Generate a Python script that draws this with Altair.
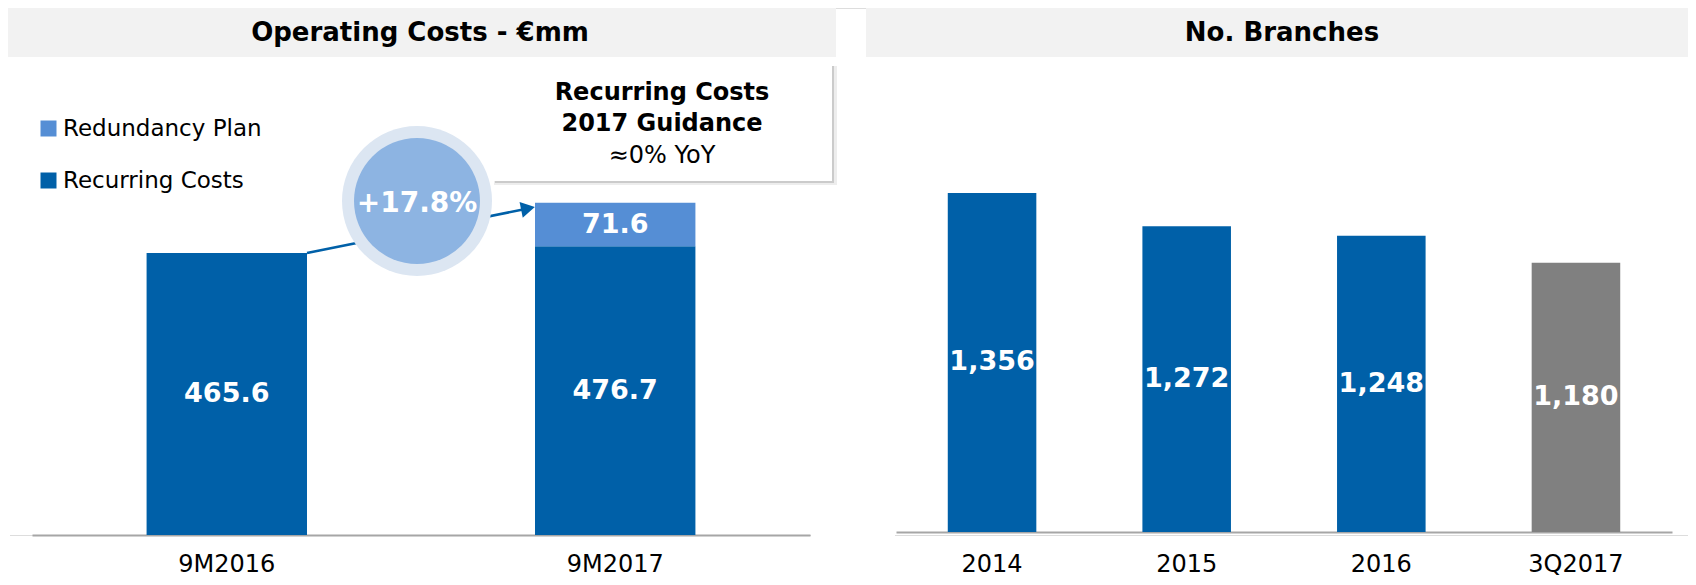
import altair as alt
import pandas as pd

# ---------------- data ----------------
periods = ["9M2016", "9M2017"]
recurring = [465.6, 476.7]
redundancy = [0.0, 71.6]
series_names = ["Redundancy Plan", "Recurring Costs"]
growth_label = ["+17.8%"]
ops_title = ["Operating Costs - €mm"]
box_lines = ["Recurring Costs", "2017 Guidance", "≈0% YoY"]

years = ["2014", "2015", "2016", "3Q2017"]
branches = [1356, 1272, 1248, 1180]
branch_title = ["No. Branches"]
branch_axis_min = 500

DARK = "#0060A8"
LIGHT = "#558ED5"
GRAY = "#808080"
BAND = "#F2F2F2"
AXIS = "#A6A6A6"
FONT = "DejaVu Sans"

# ---------------- tables ----------------
rows = []
for p, r, d in zip(periods, recurring, redundancy):
    rows.append({"period": p, "series": "Recurring Costs", "start": 0.0, "end": r,
                 "mid": r / 2, "label": f"{r:.1f}"})
    if d > 0:
        rows.append({"period": p, "series": "Redundancy Plan", "start": r, "end": r + d,
                     "mid": r + d / 2, "label": f"{d:.1f}"})
ops = pd.DataFrame(rows)

br = pd.DataFrame({"year": years, "branches": branches})
br["mid"] = (br["branches"] + branch_axis_min) / 2
br["label"] = [f"{v:,}" for v in branches]

one = lambda v: pd.DataFrame({"t": v})

W = 1680

# ---------------- left panel ----------------
ops_x_scale = alt.Scale(domain=periods, range=[24, 802], paddingInner=0.587, paddingOuter=0.295)
ops_y_scale = alt.Scale(domain=[0, 870], range=[527, 0], nice=False, zero=True)

left_band = alt.Chart(one(ops_title)).mark_rect(color=BAND).encode(
    x=alt.value(0), x2=alt.value(828), y=alt.value(0), y2=alt.value(49))
left_title = alt.Chart(one(ops_title)).mark_text(
    font=FONT, fontSize=26, fontWeight="bold", color="#000", baseline="middle").encode(
    x=alt.value(412), y=alt.value(25), text="t:N")
edge_cover = alt.Chart(one(ops_title)).mark_rule(color="white", strokeWidth=3).encode(
    x=alt.value(0.5), y=alt.value(49), y2=alt.value(528))
gap_cover = alt.Chart(one(ops_title)).mark_rule(color="white", strokeWidth=3).encode(
    x=alt.value(803), x2=alt.value(887), y=alt.value(527))

ops_bars = alt.Chart(ops).mark_bar().encode(
    x=alt.X("period:N", sort=periods, scale=ops_x_scale,
            axis=alt.Axis(orient="bottom", title=None, labelAngle=0, labelFontSize=24,
                          labelFont=FONT, labelColor="#000", labelPadding=29,
                          labelBaseline="middle", ticks=False, tickSize=0,
                          domainColor=AXIS, domainWidth=2, grid=False)),
    y=alt.Y("start:Q", scale=ops_y_scale, axis=None),
    y2="end:Q",
    color=alt.Color("series:N",
                    scale=alt.Scale(domain=series_names, range=[LIGHT, DARK]),
                    legend=alt.Legend(orient="none", legendX=29, legendY=109, title=None,
                                      symbolType="square", symbolSize=256,
                                      symbolStrokeWidth=0, symbolOpacity=1,
                                      labelFontSize=23, labelFont=FONT, labelColor="#000",
                                      labelLimit=0, labelOffset=3, rowPadding=28, padding=0)),
)
ops_text = alt.Chart(ops).mark_text(
    font=FONT, fontSize=27, fontWeight="bold", color="white", baseline="middle").encode(
    x=alt.X("period:N", sort=periods),
    y=alt.Y("mid:Q", axis=None),
    text="label:N")

arrow_line = alt.Chart(one(growth_label)).mark_rule(color=DARK, strokeWidth=2.5).encode(
    x=alt.value(299), y=alt.value(245), x2=alt.value(515), y2=alt.value(201.5))
arrow_head = alt.Chart(one(growth_label)).mark_point(
    shape="triangle-right", size=260, filled=True, color=DARK, opacity=1, angle=348.6).encode(
    x=alt.value(520), y=alt.value(200.5))
circle_outer = alt.Chart(one(growth_label)).mark_circle(size=22500, color="#DCE6F2", opacity=1).encode(
    x=alt.value(409), y=alt.value(193))
circle_inner = alt.Chart(one(growth_label)).mark_circle(size=15876, color="#8DB4E2", opacity=1).encode(
    x=alt.value(409), y=alt.value(193))
growth_text = alt.Chart(one(growth_label)).mark_text(
    font=FONT, fontSize=28, fontWeight="bold", color="white", baseline="middle").encode(
    x=alt.value(409), y=alt.value(196), text="t:N")

shadow2 = alt.Chart(one(box_lines[:1])).mark_rect(color="#000", opacity=0.07).encode(
    x=alt.value(486), x2=alt.value(829), y=alt.value(58), y2=alt.value(177))
shadow1 = alt.Chart(one(box_lines[:1])).mark_rect(color="#000", opacity=0.14).encode(
    x=alt.value(487), x2=alt.value(826), y=alt.value(58), y2=alt.value(175))
box = alt.Chart(one(box_lines[:1])).mark_rect(color="white").encode(
    x=alt.value(485), x2=alt.value(824), y=alt.value(56), y2=alt.value(173))
box_t1 = alt.Chart(one(box_lines[0:1])).mark_text(
    font=FONT, fontSize=24, fontWeight="bold", color="#000", baseline="middle").encode(
    x=alt.value(654), y=alt.value(85), text="t:N")
box_t2 = alt.Chart(one(box_lines[1:2])).mark_text(
    font=FONT, fontSize=24, fontWeight="bold", color="#000", baseline="middle").encode(
    x=alt.value(654), y=alt.value(116), text="t:N")
box_t3 = alt.Chart(one(box_lines[2:3])).mark_text(
    font=FONT, fontSize=24, color="#000", baseline="middle").encode(
    x=alt.value(654), y=alt.value(148), text="t:N")

left = alt.layer(left_band, left_title, edge_cover, gap_cover, ops_bars, arrow_line, arrow_head,
                 circle_outer, circle_inner, growth_text,
                 shadow2, shadow1, box, box_t1, box_t2, box_t3, ops_text)

# ---------------- right panel ----------------
br_x_scale = alt.Scale(domain=years, range=[888, 1664], paddingInner=0.545, paddingOuter=0.266)
br_y_scale = alt.Scale(domain=[branch_axis_min, 1823], range=[524, 0], nice=False, zero=False)

right_band = alt.Chart(one(branch_title)).mark_rect(color=BAND).encode(
    x=alt.value(858), x2=alt.value(W), y=alt.value(0), y2=alt.value(49))
right_title = alt.Chart(one(branch_title)).mark_text(
    font=FONT, fontSize=26, fontWeight="bold", color="#000", baseline="middle").encode(
    x=alt.value(1274), y=alt.value(25), text="t:N")

br_bars = alt.Chart(br).mark_bar().encode(
    x=alt.X("year:N", sort=years, scale=br_x_scale,
            axis=alt.Axis(orient="bottom", offset=-3, title=None, labelAngle=0,
                          labelFontSize=24, labelFont=FONT, labelColor="#000",
                          labelPadding=32, labelBaseline="middle", ticks=False, tickSize=0,
                          domainColor=AXIS, domainWidth=2, grid=False)),
    y=alt.Y("branches:Q", scale=br_y_scale, axis=None),
    y2=alt.datum(branch_axis_min),
    color=alt.condition(alt.datum.year == "3Q2017", alt.value(GRAY), alt.value(DARK)),
)
br_text = alt.Chart(br).mark_text(
    font=FONT, fontSize=27, fontWeight="bold", color="white", baseline="middle").encode(
    x=alt.X("year:N", sort=years),
    y=alt.Y("mid:Q", axis=None),
    text="label:N")

right = alt.layer(right_band, right_title, br_bars, br_text)

chart = (
    alt.layer(left, right)
    .resolve_scale(x="independent", y="independent", color="independent")
    .properties(width=W, height=527,
                autosize=alt.AutoSizeParams(type="none"),
                padding={"left": 0, "top": 0, "right": 0, "bottom": 42})
    .configure_view(stroke=None, strokeWidth=0)
    .configure(font=FONT)
)

chart.save("out.html", embed_options={"renderer": "svg", "actions": False})
